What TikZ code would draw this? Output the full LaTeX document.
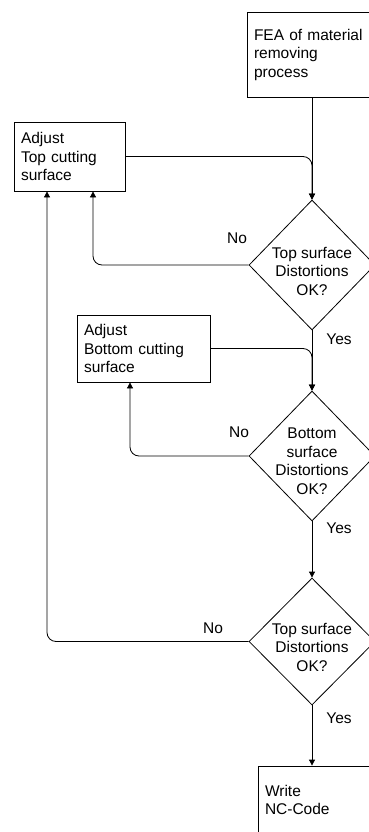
\documentclass[tikz,border=0pt]{standalone}
\usepackage{fontspec}
\setmainfont{Liberation Sans}
\usepackage{tikz}
\usetikzlibrary{arrows.meta,shapes.geometric}
\tikzset{
  ar/.style={-{Triangle[length=6pt,width=6pt]},line width=0.8pt,rounded corners=9pt},
  box/.style={draw,line width=0.8pt,align=left,inner xsep=7pt,inner ysep=0pt},
  dec/.style={draw,line width=0.8pt,diamond,inner sep=0pt,minimum width=126,minimum height=130},
  dtext/.style={align=center,inner sep=0pt},
  lab/.style={inner sep=0pt}
}
\begin{document}
\begin{tikzpicture}[x=1pt,y=-1pt,font=\fontsize{15.5}{18.5}\selectfont]
\useasboundingbox (0,0) rectangle (368,832);
\node[box,text width=116,minimum height=85] (fea) at (312,54.5) {FEA of material\\removing\\process};
\node[box,text width=97,minimum height=69] (adjtop) at (69.5,156.5) {Adjust\\Top cutting\\surface};
\node[box,text width=119,minimum height=67] (adjbot) at (143.5,348.5) {Adjust\\Bottom cutting\\surface};
\node[box,text width=98,minimum height=68] (write) at (314,800) {Write\\NC-Code};
\node[dec] (d1) at (312,265) {};
\node[dec] (d2) at (312,456) {};
\node[dec,minimum height=127] (d3) at (312,641.5) {};
\node[dtext] (t1) at (312,271) {Top surface\\Distortions\\OK?};
\node[dtext] (t2) at (312,461) {Bottom\\surface\\Distortions\\OK?};
\node[dtext] (t3) at (312,647) {Top surface\\Distortions\\OK?};
% connectors
\draw[ar] (fea.south) -- (d1.north);
\draw[ar] (adjtop.east) -| (d1.north);
\draw[ar] (d1.west) -| ([xshift=23.5]adjtop.south);
\draw[ar] (d1.south) -- (d2.north);
\draw[ar] (adjbot.east) -| (d2.north);
\draw[ar] (d2.west) -| ([xshift=-13.5]adjbot.south);
\draw[ar] (d2.south) -- (d3.north);
\draw[ar] (d3.west) -| ([xshift=-22.5]adjtop.south);
\draw[ar] (d3.south) -- (d3.south |- write.north);
% labels
\node[lab] (no1) at (237,238) {No};
\node[lab] (no2) at (239,432) {No};
\node[lab] (no3) at (213,628) {No};
\node[lab] (yes1) at (339,339) {Yes};
\node[lab] (yes2) at (339,528) {Yes};
\node[lab] (yes3) at (339,718) {Yes};
\end{tikzpicture}
\end{document}
